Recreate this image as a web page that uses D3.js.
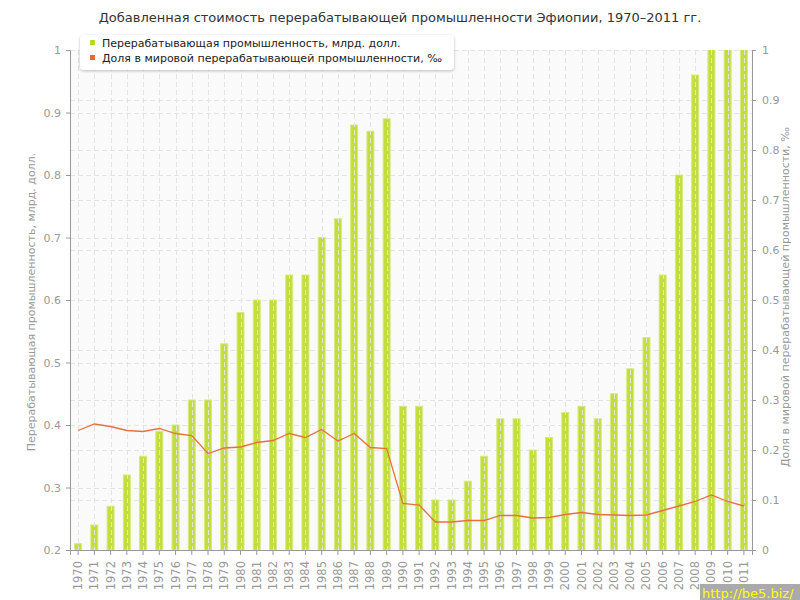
<!DOCTYPE html>
<html><head><meta charset="utf-8">
<script src="https://cdn.jsdelivr.net/npm/d3@7"></script>
<style>
body{margin:0;background:#fff;}
text{font-family:"DejaVu Sans",Verdana,sans-serif;}
</style></head>
<body><svg id="c" width="800" height="600"></svg>
<script>
const years = ["1970","1971","1972","1973","1974","1975","1976","1977","1978","1979","1980","1981","1982","1983","1984","1985","1986","1987","1988","1989","1990","1991","1992","1993","1994","1995","1996","1997","1998","1999","2000","2001","2002","2003","2004","2005","2006","2007","2008","2009","2010","2011"];
const valueAdded = [0.21,0.24,0.27,0.32,0.35,0.39,0.40,0.44,0.44,0.53,0.58,0.60,0.60,0.64,0.64,0.70,0.73,0.88,0.87,0.89,0.43,0.43,0.28,0.28,0.31,0.35,0.41,0.41,0.36,0.38,0.42,0.43,0.41,0.45,0.49,0.54,0.64,0.80,0.96,1.05,1.12,1.25];
const worldShare = [0.239,0.252,0.247,0.239,0.237,0.243,0.233,0.229,0.193,0.204,0.206,0.215,0.219,0.233,0.225,0.241,0.218,0.233,0.205,0.203,0.093,0.090,0.056,0.056,0.059,0.059,0.069,0.069,0.064,0.065,0.071,0.075,0.071,0.070,0.069,0.070,0.079,0.088,0.097,0.110,0.097,0.088];
const leftTicks = [0.2,0.3,0.4,0.5,0.6,0.7,0.8,0.9,1];
const rightTicks = [0,0.1,0.2,0.3,0.4,0.5,0.6,0.7,0.8,0.9,1];
const title = "Добавленная стоимость перерабатывающей промышленности Эфиопии, 1970–2011 гг.";
const seriesNames = ["Перерабатывающая промышленность, млрд. долл.","Доля в мировой перерабатывающей промышленности, ‰"];
const leftLabel = "Перерабатывающая промышленность, млрд. долл.";
const rightLabel = "Доля в мировой перерабатывающей промышленности, ‰";

const svg = d3.select("#c");
const L=70, R=752, T=50, B=550;
const x = d3.scaleBand().domain(years).range([L,R]).paddingInner(0.5).paddingOuter(0.25);
const xc = d => x(d)+x.bandwidth()/2;
const yL = d3.scaleLinear().domain([0.2,1]).range([B,T]);
const yR = d3.scaleLinear().domain([0,1]).range([B,T]);
const fmt = d => String(d);

svg.append("defs").append("clipPath").attr("id","clip").append("rect").attr("x",L).attr("y",T).attr("width",R-L).attr("height",B-T);
const shadow = svg.select("defs").append("filter").attr("id","sh").attr("x","-10%").attr("y","-20%").attr("width","120%").attr("height","150%");
shadow.append("feDropShadow").attr("dx",0).attr("dy",1).attr("stdDeviation",1.5).attr("flood-color","#000").attr("flood-opacity",0.25);

svg.append("rect").attr("x",L).attr("y",T).attr("width",R-L).attr("height",B-T).attr("fill","#fafafa");

svg.append("g").selectAll("line").data(rightTicks).join("line")
  .attr("x1",L).attr("x2",R).attr("y1",d=>yR(d)+0.5).attr("y2",d=>yR(d)+0.5)
  .attr("stroke","#e4e4e4").attr("stroke-dasharray","5,3");
svg.append("g").selectAll("line").data(leftTicks).join("line")
  .attr("x1",L).attr("x2",R).attr("y1",d=>Math.round(yL(d))+0.5).attr("y2",d=>Math.round(yL(d))+0.5)
  .attr("stroke","#e4e4e4").attr("stroke-dasharray","5,3");

svg.append("g").attr("clip-path","url(#clip)").selectAll("rect").data(years).join("rect")
  .attr("x",(d)=>xc(d)-3.5).attr("width",7)
  .attr("y",(d,i)=>yL(valueAdded[i])).attr("height",(d,i)=>B-yL(valueAdded[i]))
  .attr("fill","#c3de3c").attr("stroke","#d5ea80").attr("stroke-width",1);

svg.append("g").selectAll("line").data(years).join("line")
  .attr("x1",d=>Math.round(xc(d))+0.5).attr("x2",d=>Math.round(xc(d))+0.5).attr("y1",T).attr("y2",B)
  .attr("stroke","#e4e4e4").attr("stroke-dasharray","5,3");

const line = d3.line().x((d,i)=>xc(years[i])).y(d=>yR(d));
svg.append("path").datum(worldShare).attr("d",line).attr("fill","none").attr("stroke","#e8703f").attr("stroke-width",1.3);

const axL = svg.append("g").attr("transform",`translate(${L},0)`).call(d3.axisLeft(yL).tickValues(leftTicks).tickFormat(fmt).tickSize(4).tickPadding(5));
const axR = svg.append("g").attr("transform",`translate(${R},0)`).call(d3.axisRight(yR).tickValues(rightTicks).tickFormat(fmt).tickSize(4).tickPadding(6));
const axB = svg.append("g").attr("transform",`translate(0,${B})`).call(d3.axisBottom(x).tickSize(5).tickPadding(4));
[axL,axR,axB].forEach(a=>{
  a.select(".domain").attr("stroke","#999");
  a.selectAll(".tick line").attr("stroke","#999");
  a.selectAll("text").attr("fill","#999").attr("font-size",11).attr("font-family","DejaVu Sans");
});
axB.selectAll("text").attr("font-size",11.5).attr("transform","rotate(-90)").attr("text-anchor","end").attr("x",-11).attr("y",0).attr("dy","0.35em");

svg.append("text").attr("x",400).attr("y",22).attr("text-anchor","middle").attr("font-size",13).attr("fill","#333").text(title);

svg.append("text").attr("transform","translate(35,302) rotate(-90)").attr("text-anchor","middle").attr("font-size",11).attr("fill","#999").text(leftLabel);
svg.append("text").attr("transform","translate(789,297) rotate(-90)").attr("text-anchor","middle").attr("font-size",11).attr("fill","#999").text(rightLabel);

const lg = svg.append("g");
lg.append("rect").attr("x",80).attr("y",35).attr("width",374).attr("height",35).attr("rx",4).attr("fill","#fff").attr("filter","url(#sh)");
const colors = ["#b5d92c","#e8683a"];
seriesNames.forEach((s,i)=>{
  lg.append("rect").attr("x",90).attr("y",40+i*15).attr("width",5).attr("height",5).attr("fill",colors[i]);
  lg.append("text").attr("x",102).attr("y",47+i*15).attr("font-size",11).attr("fill","#222").text(s);
});

svg.append("rect").attr("x",700).attr("y",584).attr("width",100).attr("height",16).attr("fill","#aaa");
svg.append("text").attr("x",702).attr("y",598).attr("font-size",13).attr("font-family","DejaVu Sans Mono").attr("fill","#ffff00").text("http://be5.biz/");
</script></body></html>
